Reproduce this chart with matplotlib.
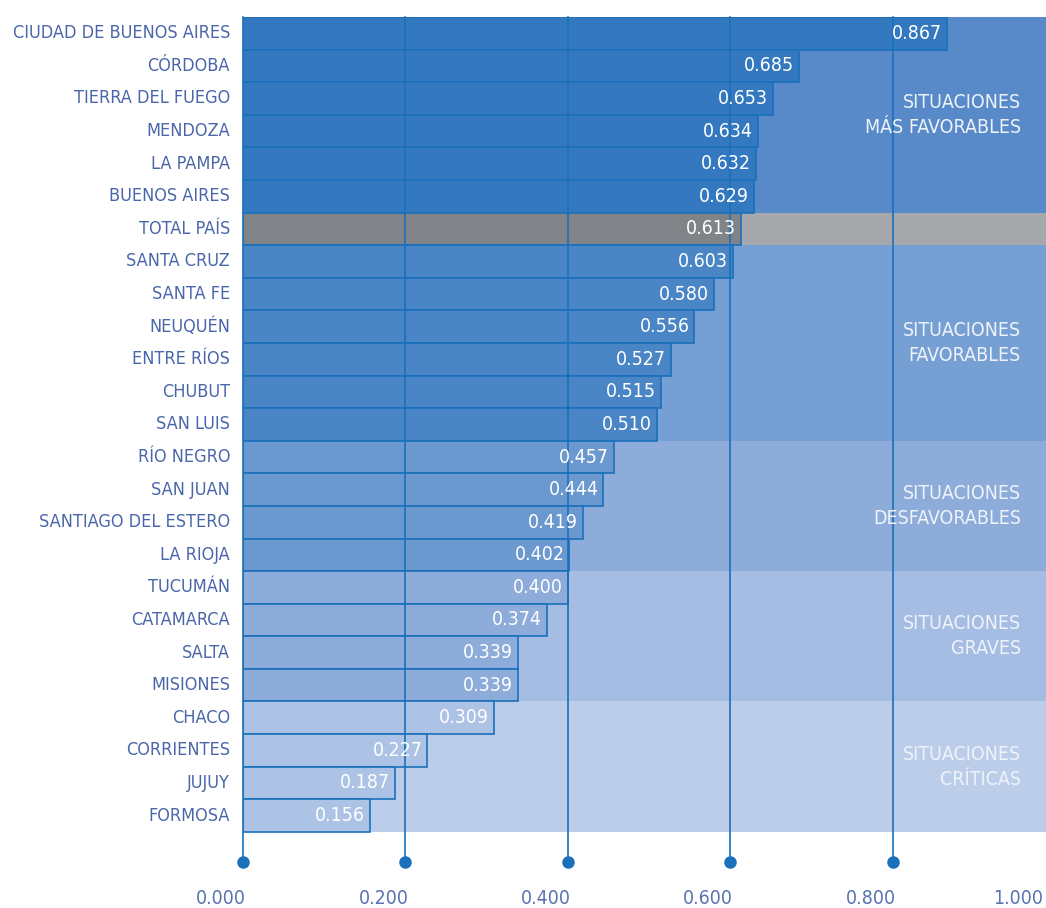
import matplotlib
matplotlib.use('Agg')
import matplotlib.pyplot as plt
from matplotlib.transforms import blended_transform_factory

# data
provincias = ['CIUDAD DE BUENOS AIRES', 'CÓRDOBA', 'TIERRA DEL FUEGO', 'MENDOZA',
              'LA PAMPA', 'BUENOS AIRES', 'TOTAL PAÍS', 'SANTA CRUZ', 'SANTA FE',
              'NEUQUÉN', 'ENTRE RÍOS', 'CHUBUT', 'SAN LUIS', 'RÍO NEGRO', 'SAN JUAN',
              'SANTIAGO DEL ESTERO', 'LA RIOJA', 'TUCUMÁN', 'CATAMARCA', 'SALTA',
              'MISIONES', 'CHACO', 'CORRIENTES', 'JUJUY', 'FORMOSA']
valores = [0.867, 0.685, 0.653, 0.634, 0.632, 0.629, 0.613, 0.603, 0.580, 0.556,
           0.527, 0.515, 0.510, 0.457, 0.444, 0.419, 0.402, 0.400, 0.374, 0.339,
           0.339, 0.309, 0.227, 0.187, 0.156]
# group of each row: 0..4 situaciones, 't' total
grupo = [0, 0, 0, 0, 0, 0, 't', 1, 1, 1, 1, 1, 1, 2, 2, 2, 2, 3, 3, 3, 3, 4, 4, 4, 4]
grupos_txt = ['SITUACIONES\nMÁS FAVORABLES', 'SITUACIONES\nFAVORABLES',
              'SITUACIONES\nDESFAVORABLES', 'SITUACIONES\nGRAVES', 'SITUACIONES\nCRÍTICAS']
ticks = [0.0, 0.2, 0.4, 0.6, 0.8, 1.0]

bar_col = {0: '#3479c0', 't': '#808488', 1: '#4a85c5', 2: '#6b98cf', 3: '#8dacda', 4: '#adc3e6'}
band_col = {0: '#5889c9', 't': '#a6a9ac', 1: '#769fd3', 2: '#8dacda', 3: '#a5bde2', 4: '#bccde9'}
line_col = '#1a70bb'
txt_col = '#4a66aa'

plt.rcParams['font.family'] = ['DejaVu Sans']
fs = dict(fontstretch='condensed', fontsize=14)
fs_nom = dict(fontstretch='condensed', fontsize=13)

fig = plt.figure(figsize=(10.46, 9.08), dpi=100)
W, H = 1046, 908
ax = fig.add_axes([243 / W, 1 - 870 / H, 1 - 243 / W, (870 - 17) / H])
ax.set_xlim(0, 0.989)
ax.set_ylim(25.67, -0.5)
ax.axis('off')

n = len(provincias)
ys = list(range(n))

# background bands
for i in ys:
    ax.axhspan(i - 0.5, i + 0.5, color=band_col[grupo[i]], lw=0, zorder=0)

# bars
ax.barh(ys, valores, height=1.0, color=[bar_col[g] for g in grupo],
        edgecolor=line_col, linewidth=1.2, zorder=1)

# grid lines with dots
dot_y = 25.42
for t in ticks[:-1]:
    ax.plot([t, t], [-0.5, dot_y], color=line_col, lw=1.2, zorder=3, clip_on=False)
    ax.plot([t], [dot_y], marker='o', ms=8, color=line_col, zorder=4, clip_on=False)

# value labels
for i, v in enumerate(valores):
    ax.text(v - 0.006, i, f'{v:.3f}', ha='right', va='center', color='white',
            zorder=5, **fs)

# province labels
for i, p in enumerate(provincias):
    ax.text(-0.016, i, p, ha='right', va='center', color=txt_col,
            clip_on=False, **fs_nom)

# group labels
for k, txt in enumerate(grupos_txt):
    rows = [i for i in ys if grupo[i] == k]
    yc = (rows[0] + rows[-1]) / 2
    ax.text(0.958, yc, txt, ha='right', va='center', color='#eef3fa',
            linespacing=1.4, zorder=5, multialignment='right', **fs)

# tick labels
tr = blended_transform_factory(ax.transData, fig.transFigure)
for t in ticks:
    if t < 1.0:
        ax.text(t - 0.027, 1 - 898 / H, f'{t:.3f}', ha='center', va='center',
                color='#5a73b2', transform=tr, clip_on=False, **fs)
    else:
        ax.text(0.985, 1 - 898 / H, f'{t:.3f}', ha='right', va='center',
                color='#5a73b2', transform=tr, clip_on=False, **fs)

fig.savefig('out.png', dpi=100, facecolor='white')
